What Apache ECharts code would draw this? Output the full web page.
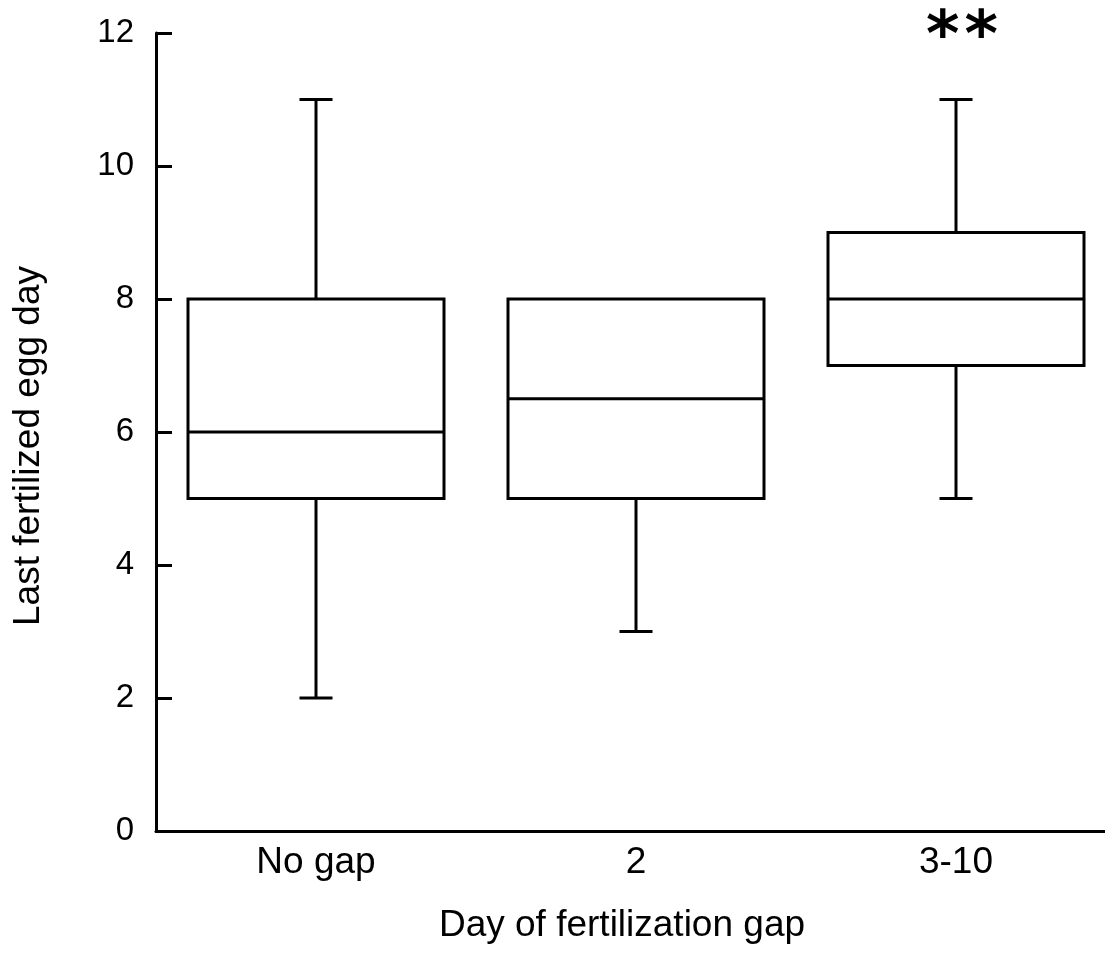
<!DOCTYPE html>
<html>
<head>
<meta charset="utf-8">
<script src="https://cdn.jsdelivr.net/npm/echarts@6/dist/echarts.min.js"></script>
<style>
html,body{margin:0;padding:0;background:#fff;}
#chart{width:1105px;height:966px;}
</style>
</head>
<body>
<div id="chart"></div>
<script>
const categories = ['No gap', '2', '3-10'];
const whiskerLow = [2, 3, 5];
const quartile1 = [5, 5, 7];
const medians = [6, 6.5, 8];
const quartile3 = [8, 8, 9];
const whiskerHigh = [11, 8, 11];
const yTicks = [0, 2, 4, 6, 8, 10, 12];
const annotations = [{ category: 2, value: 12, text: '**' }];

const FONT = '"Liberation Sans", Arial, Helvetica, sans-serif';
const boxData = categories.map((c, i) => [i, whiskerLow[i], quartile1[i], medians[i], quartile3[i], whiskerHigh[i]]);
const annData = annotations.map(a => [a.category, a.value]);

function renderBox(params, api) {
  const x = api.value(0);
  const lo = api.coord([x, api.value(1)]);
  const q1 = api.coord([x, api.value(2)]);
  const md = api.coord([x, api.value(3)]);
  const q3 = api.coord([x, api.value(4)]);
  const hi = api.coord([x, api.value(5)]);
  const cx = lo[0];
  const bw = api.size([1, 0])[0] * 0.8;
  const cw = 33;
  const ls = { stroke: '#000', lineWidth: 3, fill: null };
  const children = [
    { type: 'line', shape: { x1: cx, y1: q1[1], x2: cx, y2: lo[1] }, style: ls },
    { type: 'line', shape: { x1: cx - cw / 2, y1: lo[1], x2: cx + cw / 2, y2: lo[1] }, style: ls }
  ];
  if (api.value(5) > api.value(4)) {
    children.push({ type: 'line', shape: { x1: cx, y1: q3[1], x2: cx, y2: hi[1] }, style: ls });
    children.push({ type: 'line', shape: { x1: cx - cw / 2, y1: hi[1], x2: cx + cw / 2, y2: hi[1] }, style: ls });
  }
  children.push({ type: 'rect', shape: { x: cx - bw / 2, y: q3[1], width: bw, height: q1[1] - q3[1] }, style: { stroke: '#000', lineWidth: 3, fill: '#fff' } });
  children.push({ type: 'line', shape: { x1: cx - bw / 2, y1: md[1], x2: cx + bw / 2, y2: md[1] }, style: ls });
  return { type: 'group', children: children };
}

function renderAnn(params, api) {
  const p = api.coord([api.value(0), api.value(1)]);
  const chars = annotations[params.dataIndex].text.split('');
  const step = 38.5;
  const x0 = p[0] + 6 - step * (chars.length - 1) / 2;
  return {
    type: 'group',
    children: chars.map((ch, k) => ({
      type: 'text',
      x: x0 + k * step,
      y: p[1] + 6,
      style: {
        text: ch,
        font: 'bold 64px "DejaVu Sans", sans-serif',
        fill: '#000',
        align: 'center',
        verticalAlign: 'middle'
      }
    }))
  };
}

const chart = echarts.init(document.getElementById('chart'), null, { renderer: 'canvas' });
chart.setOption({
  backgroundColor: '#fff',
  animation: false,
  grid: { left: 156, width: 960, top: 33, bottom: 135, containLabel: false, outerBoundsMode: 'none' },
  xAxis: {
    type: 'category',
    data: categories,
    name: 'Day of fertilization gap',
    nameLocation: 'middle',
    nameGap: 76,
    nameTextStyle: { fontFamily: FONT, fontSize: 37, color: '#000', padding: [0, 28, 0, 0] },
    axisLine: { lineStyle: { color: '#000', width: 3 } },
    axisTick: { show: false },
    axisLabel: { fontFamily: FONT, fontSize: 37, color: '#000', margin: 13 },
    splitLine: { show: false }
  },
  yAxis: {
    type: 'value',
    min: yTicks[0],
    max: yTicks[yTicks.length - 1],
    interval: 2,
    name: 'Last fertilized egg day',
    nameLocation: 'middle',
    nameRotate: 90,
    nameGap: 109,
    nameTextStyle: { fontFamily: FONT, fontSize: 37, color: '#000', padding: [0, 28, 0, 0] },
    axisLine: { show: true, lineStyle: { color: '#000', width: 3 } },
    axisTick: { show: true, inside: true, length: 16, lineStyle: { color: '#000', width: 3 } },
    axisLabel: { fontFamily: FONT, fontSize: 33, color: '#000', margin: 22 },
    splitLine: { show: false }
  },
  series: [
    { type: 'custom', renderItem: renderBox, data: boxData, encode: { x: 0, y: [1, 2, 3, 4, 5] }, clip: false },
    { type: 'custom', renderItem: renderAnn, data: annData, encode: { x: 0, y: 1 }, clip: false }
  ]
});
</script>
</body>
</html>
